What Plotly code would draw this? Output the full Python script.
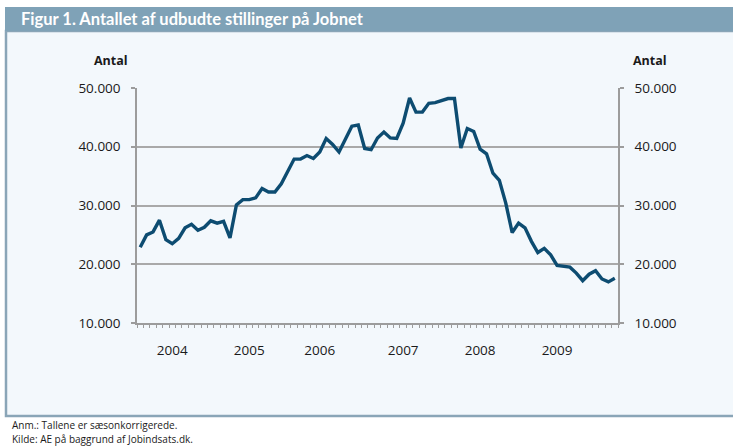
import plotly.graph_objects as go

# ---- data (monthly, seasonally adjusted) ----
values = [22900, 25000, 25500, 27500, 24200, 23500, 24400, 26200, 26800, 25800,
          26300, 27400, 27000, 27300, 24500, 30100, 31000, 31000, 31300, 32900,
          32300, 32300, 33700, 35700, 37900, 37900, 38500, 38000, 39100, 41400,
          40400, 39100, 41200, 43500, 43700, 39700, 39500, 41500, 42500, 41500,
          41400, 44000, 48300, 45900, 45900, 47400, 47500, 47900, 48200, 48200,
          39800, 43100, 42600, 39600, 38800, 35500, 34300, 30400, 25400, 27000,
          26200, 23900, 22000, 22700, 21600, 19800, 19700, 19500, 18500, 17200,
          18300, 18900, 17500, 17000, 17600]
months = list(range(len(values)))
year_labels = ["2004", "2005", "2006", "2007", "2008", "2009"]
year_label_month = [5, 17, 28, 41, 53, 65]
y_ticks = [10000, 20000, 30000, 40000, 50000]
y_tick_text = ["10.000", "20.000", "30.000", "40.000", "50.000"]

W, H = 733, 446
ML, MR, MT, MB = 137, 115, 88, 123
pw, ph = W - ML - MR, H - MT - MB


def px(x):
    return (x - ML) / pw


def py(y):
    return (H - MB - y) / ph


font = "Open Sans"
line_col = "#0d4c71"
grid_col = "#a9a9a9"
axis_col = "#9c9c9c"
panel_bg = "#f3f8fc"

fig = go.Figure()
fig.add_trace(go.Scatter(x=months, y=values, mode="lines",
                         line=dict(color=line_col, width=3.4),
                         showlegend=False, hoverinfo="skip"))
# invisible helper trace to draw the mirrored right axis and monthly ticks
fig.add_trace(go.Scatter(x=months, y=values, mode="lines", xaxis="x2", yaxis="y2",
                         line=dict(width=0), opacity=0,
                         showlegend=False, hoverinfo="skip"))

xr = [-0.5, len(values) - 0.5]
yr = [10000, 50000]

fig.update_layout(
    width=W, height=H,
    margin=dict(l=ML, r=MR, t=MT, b=MB),
    paper_bgcolor="white", plot_bgcolor=panel_bg,
    font=dict(family=font, color="#1a1a1a", size=13),
    xaxis=dict(range=xr, tickmode="array", tickvals=year_label_month,
               ticktext=year_labels, ticks="", showgrid=False, zeroline=False,
               showline=True, linecolor=axis_col, linewidth=2,
               ticklabelstandoff=14, tickfont=dict(size=13.5, family=font)),
    xaxis2=dict(range=xr, overlaying="x", side="bottom", anchor="y",
                tick0=-0.5, dtick=1, ticks="outside", ticklen=4, tickwidth=1,
                tickcolor=axis_col, showticklabels=False, showgrid=False,
                zeroline=False, showline=False),
    yaxis=dict(range=yr, tickmode="array", tickvals=y_ticks, ticktext=y_tick_text,
               ticks="outside", ticklen=4, tickcolor=axis_col, tickwidth=1.5,
               showgrid=True, gridcolor=grid_col, gridwidth=1.5, zeroline=False,
               showline=True, linecolor=axis_col, linewidth=1.5,
               ticklabelstandoff=8, tickfont=dict(size=13.5, family=font)),
    yaxis2=dict(range=yr, overlaying="y", side="right", anchor="x",
                tickmode="array", tickvals=y_ticks, ticktext=y_tick_text,
                ticks="outside", ticklen=4, tickcolor=axis_col, tickwidth=1.5,
                showgrid=False, zeroline=False,
                showline=True, linecolor=axis_col, linewidth=1.5,
                ticklabelstandoff=8, tickfont=dict(size=13.5, family=font)),
    shapes=[
        dict(type="rect", xref="paper", yref="paper", layer="below",
             x0=px(6), x1=px(745), y0=py(416), y1=py(31),
             fillcolor=panel_bg, line=dict(color="#8aa5b7", width=2.5)),
        dict(type="rect", xref="paper", yref="paper", layer="below",
             x0=px(5), x1=px(745), y0=py(31), y1=py(7),
             fillcolor="#7fa2b7", line=dict(width=0)),
    ],
    annotations=[
        dict(text="<b>Figur 1. Antallet af udbudte stillinger på Jobnet</b>",
             xref="paper", yref="paper", x=px(19), y=py(19), xanchor="left",
             yanchor="middle", showarrow=False,
             font=dict(family="Lato", size=16.5, color="white")),
        dict(text="<b>Antal</b>", xref="paper", yref="paper", x=px(130), y=py(60),
             xanchor="right", yanchor="middle", showarrow=False,
             font=dict(family=font, size=12.5, color="#1a1a1a")),
        dict(text="<b>Antal</b>", xref="paper", yref="paper", x=px(631), y=py(60),
             xanchor="left", yanchor="middle", showarrow=False,
             font=dict(family=font, size=12.5, color="#1a1a1a")),
        dict(text="Anm.: Tallene er sæsonkorrigerede.", xref="paper", yref="paper",
             x=px(10), y=py(425), xanchor="left", yanchor="middle", showarrow=False,
             font=dict(family=font, size=10, color="#1a1a1a")),
        dict(text="Kilde: AE på baggrund af Jobindsats.dk.", xref="paper", yref="paper",
             x=px(10), y=py(439), xanchor="left", yanchor="middle", showarrow=False,
             font=dict(family=font, size=10, color="#1a1a1a")),
    ],
)

fig.write_html("out.html",
               config={"displayModeBar": False},
               post_script="document.body.style.margin='0';"
                           "document.body.style.overflow='hidden';")
